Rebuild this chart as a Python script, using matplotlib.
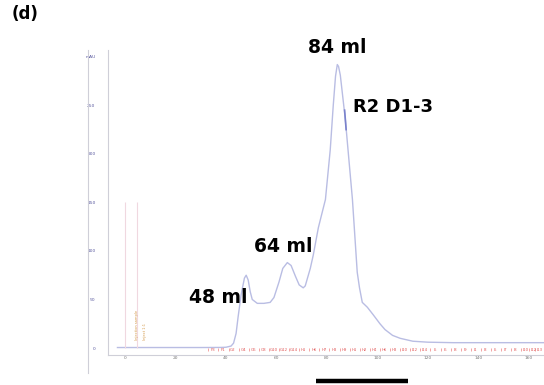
import matplotlib
matplotlib.use('Agg')
import matplotlib.pyplot as plt
from matplotlib.lines import Line2D

# Chromatogram trace (ml, mAU)
volume_ml = [-3, 0, 10, 20, 30, 38, 40, 42, 43, 44, 44.8, 46, 47.3, 48, 48.8, 49.6, 50.4,
             52.4, 55, 57.5, 59, 61, 62.5, 64.3, 65.8, 67.5, 69, 70.6, 71.4, 73.4, 74.6,
             76.6, 79.4, 81.3, 82.5, 83.4, 84.1, 84.6, 85.3, 87.3, 90.1, 92, 92.9, 94, 96,
             98.4, 101, 103, 106, 109, 114, 120, 130, 140, 150, 160, 170]
absorbance = [0.5, 0.5, 0.5, 0.5, 0.5, 0.6, 0.8, 2, 5, 15, 32, 55, 72, 75, 70, 58, 50,
              46, 46, 47, 52, 68, 82, 88, 85, 74, 65, 62, 64, 82, 96,
              124, 153, 204, 250, 280, 292, 290, 281, 235, 153, 78, 62, 47, 42,
              34, 25, 19, 13, 10, 7, 6, 5.5, 5.5, 5.5, 5.5, 5.5]

x_ticks = [0, 20, 40, 60, 80, 100, 120, 140, 160]
y_ticks = [0, 50, 100, 150, 200, 250, 300]
y_tick_labels = ['0', '50', '100', '150', '200', '250', 'mAU']

# fraction marks along the baseline
fraction_ml = [33, 37, 41, 45, 49, 53, 57, 61, 65, 69, 73, 77, 81, 85, 89, 93, 97,
               101, 105, 109, 113, 117, 121, 125, 129, 133, 137, 141, 145, 149, 153,
               157, 160, 162.5]
fraction_names = ['F3', 'F1', 'G2', 'G4', 'G6', 'G8', 'G10', 'G12', 'G14', 'H1', 'H6',
                  'H7', 'H8', 'H9', 'H1', 'H2', 'H4', 'H6', 'H8', 'I10', 'I12', 'I14',
                  'I5', 'I6', 'I8', 'I9', 'I1', 'I3', 'I5', 'I7', 'I8', 'I10', 'I12', 'I13']

# injection markers
inject_ml = [0, 4.8]
inject_top = 150

W, H = 544, 385
fig = plt.figure(figsize=(W / 100, H / 100), dpi=100)
ax = fig.add_axes([108 / W, 1 - 355 / H, 1 - 108 / W, (355 - 50) / H])

ax.plot(volume_ml, absorbance, color='#b9bde3', lw=1.0)
# small darker mark on the main peak
ax.plot([87.0, 87.6], [245, 225], color='#7a82cc', lw=1.2)

# injection lines
ax.vlines(inject_ml, 0, inject_top, color='#f0d8e0', lw=0.8)
ax.text(4.8, 8, 'Injection sample', rotation=90, fontsize=2.6, color='#d49a4a',
        ha='center', va='bottom')
ax.text(7.8, 8, 'Inject 1:1', rotation=90, fontsize=2.6, color='#d49a4a',
        ha='center', va='bottom')

# fractions
ax.vlines(fraction_ml, -3, 0, color='#f08080', lw=0.5)
for xf, name in zip(fraction_ml, fraction_names):
    ax.text(xf + 1.8, -2.5, name, fontsize=2.8, color='#e05a5a', ha='center', va='center')

ax.set_xlim(-6.75, 166)
ax.set_ylim(-7.2, 307)
ax.set_xticks(x_ticks)
ax.set_xticklabels([str(v) for v in x_ticks])
ax.set_yticks(y_ticks)
ax.set_yticklabels(y_tick_labels)
ax.tick_params(axis='x', length=0, pad=1, labelsize=3.2, labelcolor='#777777')
ax.tick_params(axis='y', length=0, pad=9, labelsize=3.2, labelcolor='#5a5aa0')
for s in ['top', 'right']:
    ax.spines[s].set_visible(False)
for s in ['left', 'bottom']:
    ax.spines[s].set_color('#cfcfd8')
    ax.spines[s].set_linewidth(0.8)

# peak annotations
ax.text(84, 300, '84 ml', fontsize=13.5, fontweight='bold', ha='center', va='bottom')
ax.text(106, 248, 'R2 D1-3', fontsize=13, fontweight='bold', ha='center', va='center')
ax.text(62.5, 105, '64 ml', fontsize=13.5, fontweight='bold', ha='center', va='center')
ax.text(37, 52, '48 ml', fontsize=13.5, fontweight='bold', ha='center', va='center')

# outer frame line on the left
fig.add_artist(Line2D([88 / W, 88 / W], [1 - 373 / H, 1 - 50 / H], color='#cfcfd8', lw=0.8))
# scale bar below the chart
fig.add_artist(Line2D([316 / W, 408 / W], [1 - 381 / H, 1 - 381 / H], color='black', lw=3.2,
                      solid_capstyle='butt'))

fig.text(12 / W, 1 - 14 / H, '(d)', fontsize=12, fontweight='bold', ha='left', va='center')

fig.savefig('out.png', dpi=100)
